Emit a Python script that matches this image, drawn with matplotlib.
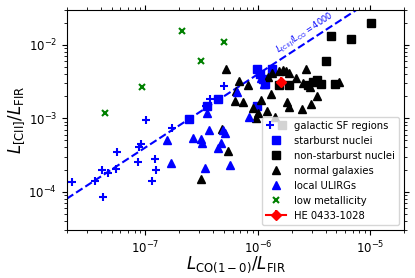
import numpy as np
import matplotlib.pyplot as plt
from matplotlib.legend_handler import HandlerTuple

# galactic SF regions
sf_x = [2.23e-8, 3.53e-8, 4.10e-8, 4.19e-8, 4.65e-8, 5.43e-8, 5.58e-8, 8.6e-8, 8.77e-8, 9.2e-8,
        1.21e-7, 1.24e-7, 1.15e-7, 1.02e-7, 1.71e-7, 4.99e-7, 3.74e-7, 3.45e-7]
sf_y = [1.36e-4, 1.40e-4, 1.97e-4, 8.5e-5, 1.78e-4, 2.01e-4, 3.44e-4, 2.56e-4, 4.02e-4, 4.46e-4,
        2.76e-4, 1.97e-4, 1.40e-4, 9.5e-4, 7.45e-4, 2.76e-3, 1.82e-3, 1.47e-3]

# starburst nuclei
sb_x = [2.45e-7, 3.5e-7, 4.44e-7, 9.75e-7, 1.04e-6, 1.11e-6, 1.16e-6, 1.33e-6, 9.75e-7]
sb_y = [9.77e-4, 1.47e-3, 1.82e-3, 4.71e-3, 4.02e-3, 3.43e-3, 2.94e-3, 4.66e-3, 1.47e-3]

# non-starburst nuclei
nsb_x = [1.01e-5, 4.46e-6, 6.76e-6, 4.02e-6, 3.12e-6, 2.81e-6, 3.65e-6, 4.86e-6, 1.91e-6, 1.55e-6, 3.37e-6]
nsb_y = [2.01e-2, 1.33e-2, 1.22e-2, 6.05e-3, 3.13e-3, 2.85e-3, 2.91e-3, 2.91e-3, 2.82e-3, 2.85e-3, 3.33e-3]

# normal galaxies
ng_x = [5.2e-7, 6.83e-7, 8.2e-7, 6.38e-7, 6.25e-7, 7.41e-7, 9.1e-7, 1.01e-6, 9.55e-7, 1.20e-6,
        1.42e-6, 1.31e-6, 1.07e-6, 1.24e-6, 1.33e-6, 1.54e-6, 1.66e-6, 1.78e-6, 1.90e-6, 2.19e-6,
        2.67e-6, 2.54e-6, 3.38e-6, 2.97e-6, 2.46e-6, 1.81e-6, 1.91e-6, 5.31e-6, 2.91e-6, 4.82e-7,
        3.11e-7, 5.38e-7]
ng_y = [4.71e-3, 3.23e-3, 2.85e-3, 2.36e-3, 1.72e-3, 1.68e-3, 1.37e-3, 1.17e-3, 1.0e-3, 1.26e-3,
        1.05e-3, 2.12e-3, 1.78e-3, 3.70e-3, 4.19e-3, 4.46e-3, 4.56e-3, 4.46e-3, 4.11e-3, 3.58e-3,
        4.66e-3, 3.0e-3, 2.01e-3, 1.55e-3, 1.33e-3, 1.68e-3, 1.44e-3, 3.13e-3, 2.70e-3, 7.15e-4,
        1.49e-4, 3.61e-4]

# local ULIRGs
ul_x = [1.57e-7, 1.68e-7, 2.65e-7, 3.15e-7, 3.19e-7, 3.38e-7, 3.54e-7, 4.44e-7, 4.66e-7, 5.64e-7,
        3.69e-7, 4.92e-7, 8.38e-7, 5.09e-7, 6.47e-7, 1.06e-6, 1.13e-6]
ul_y = [5.06e-4, 2.43e-4, 5.33e-4, 5.22e-4, 4.65e-4, 2.08e-4, 1.17e-3, 3.90e-4, 4.65e-4, 2.31e-4,
        6.92e-4, 6.92e-4, 1.05e-3, 6.37e-4, 2.31e-3, 3.52e-3, 2.94e-3]

# low metallicity
lm_x = [4.4e-8, 9.3e-8, 2.1e-7, 3.15e-7, 5.0e-7]
lm_y = [1.19e-3, 2.7e-3, 1.57e-2, 6.05e-3, 1.11e-2]

# HE 0433-1028
he_x, he_y = 1.60e-6, 3.16e-3
he_xerr, he_yerr = 5e-8, 5e-4

ratio = 4000
xlim = (2e-8, 2e-5)
ylim = (3e-5, 3e-2)

fig = plt.figure(figsize=(4.15, 2.78), dpi=100)
ax = fig.add_axes([0.161, 0.173, 0.813, 0.791])
ax.set_xscale('log')
ax.set_yscale('log')

xx = np.array(xlim)
ax.plot(xx, ratio * xx, '--', color='b', lw=1.5, zorder=1)

ms = 5.5
p_sf, = ax.plot(sf_x, sf_y, '+', color='b', ms=6, mew=1.5, ls='none')
p_sb, = ax.plot(sb_x, sb_y, 's', color='b', ms=ms, ls='none')
p_nsb, = ax.plot(nsb_x, nsb_y, 's', color='k', ms=ms, ls='none')
p_ng, = ax.plot(ng_x, ng_y, '^', color='k', ms=ms, ls='none')
p_ul, = ax.plot(ul_x, ul_y, '^', color='b', ms=ms, ls='none')
p_lm, = ax.plot(lm_x, lm_y, 'x', color='g', ms=4.5, mew=1.5, ls='none')
p_he = ax.errorbar(he_x, he_y, yerr=he_yerr, fmt='-D', color='r', ms=5)

gray_sq, = ax.plot([], [], 's', color='lightgray', ms=ms, ls='none')

ax.set_xlim(xlim)
ax.set_ylim(ylim)

ang = np.degrees(np.arctan(73.3 / 112.2))
ax.text(1.6e-6, 6.9e-3, r'$L_{\rm [CII]}/L_{\rm CO} = 4000$', color='b', fontsize=6,
        rotation=ang, rotation_mode='anchor', ha='left', va='bottom')

ax.tick_params(which='both', direction='out', top=True, right=True, labelsize=8.5)
ax.set_xlabel(r'$L_{\rm CO(1-0)}/L_{\rm FIR}$', fontsize=12, labelpad=-1)
ax.set_ylabel(r'$L_{\rm [CII]}/L_{\rm FIR}$', fontsize=12, labelpad=2)

handles = [(p_sf, gray_sq), p_sb, p_nsb, p_ng, p_ul, p_lm, p_he]
labels = ['galactic SF regions', 'starburst nuclei', 'non-starburst nuclei', 'normal galaxies',
          'local ULIRGs', 'low metallicity', 'HE 0433-1028']
ax.legend(handles, labels, loc='lower right', fontsize=7.2,
          handler_map={tuple: HandlerTuple(ndivide=None)})

fig.savefig('out.png', dpi=100)
